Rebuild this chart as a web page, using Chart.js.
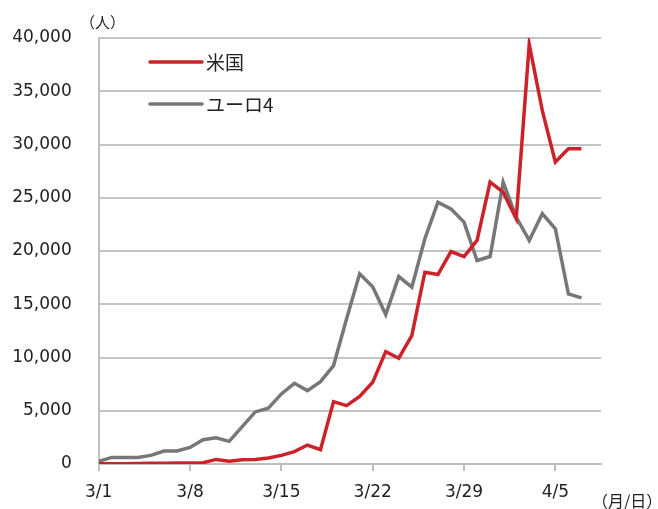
<!DOCTYPE html>
<html>
<head>
<meta charset="utf-8">
<script src="https://cdn.jsdelivr.net/npm/chart.js@4/dist/chart.umd.min.js"></script>
<style>
html,body{margin:0;padding:0;background:#fff;}
#wrap{width:658px;height:509px;position:relative;}
</style>
</head>
<body>
<div id="wrap"><canvas id="c" width="658" height="509"></canvas></div>
<script>
const dates = ["3/1","3/2","3/3","3/4","3/5","3/6","3/7","3/8","3/9","3/10","3/11","3/12","3/13","3/14","3/15","3/16","3/17","3/18","3/19","3/20","3/21","3/22","3/23","3/24","3/25","3/26","3/27","3/28","3/29","3/30","3/31","4/1","4/2","4/3","4/4","4/5","4/6","4/7"];
const tickDays = [0, 7, 14, 21, 28, 35];
const usCases = [20, 30, 30, 40, 60, 70, 90, 100, 120, 430, 250, 400, 430, 560, 810, 1160, 1780, 1340, 5860, 5480, 6350, 7670, 10550, 9930, 12060, 18010, 17790, 19950, 19480, 20990, 26470, 25530, 23030, 39410, 33200, 28350, 29600, 29600];
const euCases = [250, 620, 620, 620, 810, 1220, 1220, 1560, 2280, 2470, 2130, 3510, 4890, 5250, 6580, 7580, 6890, 7730, 9240, 13630, 17860, 16650, 14030, 17600, 16600, 21150, 24590, 23960, 22710, 19110, 19480, 26470, 23180, 20990, 23500, 22090, 15980, 15600];
const seriesNames = ["米国", "ユーロ4"];
const FONT = "'DejaVu Sans', Verdana, sans-serif";
const CJK = "'Noto Sans CJK JP', 'DejaVu Sans', sans-serif";

const toXY = arr => arr.map((v, i) => ({x: i, y: v}));

const extras = {
  id: 'extras',
  afterDraw(chart) {
    const ctx = chart.ctx;
    ctx.save();
    const items = chart.data.datasets;
    const lx0 = 150, lx1 = 202, ly = [62, 104];
    items.forEach((ds, k) => {
      ctx.strokeStyle = ds.borderColor;
      ctx.lineWidth = 3.5;
      ctx.lineCap = 'round';
      ctx.beginPath();
      ctx.moveTo(lx0, ly[k]);
      ctx.lineTo(lx1, ly[k]);
      ctx.stroke();
      ctx.fillStyle = '#222';
      ctx.font = "19px " + CJK;
      ctx.textBaseline = 'middle';
      ctx.textAlign = 'left';
      ctx.fillText(ds.label, 206, ly[k] + 1);
    });
    ctx.font = "15px " + CJK;
    ctx.fillStyle = '#222';
    ctx.textAlign = 'left';
    ctx.textBaseline = 'middle';
    ctx.fillText("（人）", 80, 22);
    ctx.font = "16px " + CJK;
    ctx.fillText("（月/日）", 592, 501);
    ctx.restore();
  }
};

new Chart(document.getElementById('c'), {
  type: 'line',
  data: {
    datasets: [
      {label: seriesNames[0], data: toXY(usCases), borderColor: '#cc2229', borderWidth: 3.5, pointRadius: 0, tension: 0, fill: false},
      {label: seriesNames[1], data: toXY(euCases), borderColor: '#777777', borderWidth: 3.5, pointRadius: 0, tension: 0, fill: false}
    ]
  },
  options: {
    responsive: false,
    animation: false,
    layout: {padding: {left: 0, right: 57, top: 38, bottom: 0}},
    plugins: {legend: {display: false}, tooltip: {enabled: false}},
    scales: {
      x: {
        type: 'linear',
        min: 0,
        max: 38.5,
        afterBuildTicks: s => { s.ticks = tickDays.map(v => ({value: v})); },
        afterFit: s => { s.height = 45; },
        grid: {drawOnChartArea: false, drawTicks: true, tickLength: 7, color: '#bfbfbf', lineWidth: 2},
        border: {display: true, color: '#bfbfbf', width: 2},
        ticks: {
          autoSkip: false, maxRotation: 0, padding: 11,
          color: '#222', font: {family: FONT, size: 17},
          callback: v => dates[v]
        }
      },
      y: {
        min: 0, max: 40000,
        afterFit: s => { s.width = 98.7; },
        ticks: {
          stepSize: 5000, padding: 27, color: '#222', font: {family: FONT, size: 17},
          callback: v => v.toLocaleString('en-US')
        },
        grid: {color: '#c4c4c4', lineWidth: 2, drawTicks: false},
        border: {display: true, color: '#bfbfbf', width: 2}
      }
    }
  },
  plugins: [extras]
});
</script>
</body>
</html>
